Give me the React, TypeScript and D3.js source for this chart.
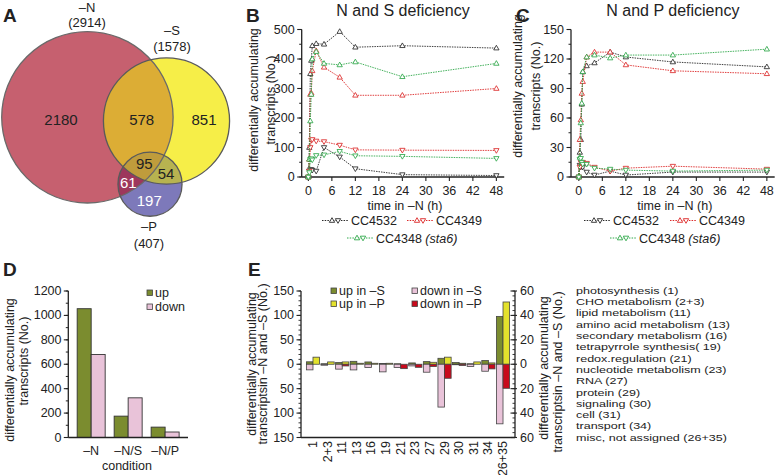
import React from "react";
import * as d3 from "d3";

const FONT = "'Liberation Sans', Arial, Helvetica, sans-serif";

// ---------- Panel A (Venn) ----------
const vennSets = ["–N", "–S", "–P"];
const vennTotals = [2914, 1578, 407];
const vennOnlyN = 2180;
const vennNS = 578;
const vennOnlyS = 851;
const vennNSP = 95;
const vennSP = 54;
const vennNP = 61;
const vennOnlyP = 197;

// ---------- Panels B / C ----------
const timePoints = [0, 0.25, 0.5, 0.75, 1, 2, 4, 8, 12, 24, 48];
const strainNames = ["CC4532", "CC4349", "CC4348"];
const nsUpCC4532 = [0, 100, 350, 395, 445, 452, 450, 493, 440, 445, 437];
const nsDownCC4532 = [0, 20, 25, 25, 23, 20, 100, 68, 28, 8, 5];
const nsUpCC4349 = [0, 60, 280, 285, 360, 428, 372, 338, 277, 277, 300];
const nsDownCC4349 = [0, 20, 100, 125, 127, 122, 120, 108, 92, 91, 90];
const nsUpCC4348 = [0, 60, 190, 280, 400, 425, 385, 380, 390, 340, 385];
const nsDownCC4348 = [0, 15, 60, 62, 58, 73, 75, 87, 72, 70, 63];

const npUpCC4532 = [0, 25, 38, 74, 107, 113, 116, 127, 122, 117, 112];
const npDownCC4532 = [0, 12, 10, 11, 10, 5, 2, 6, 2, 5, 5];
const npUpCC4349 = [0, 38, 58, 85, 97, 122, 127, 127, 114, 108, 105];
const npDownCC4349 = [0, 10, 15, 14, 15, 14, 10, 6, 9, 11, 8];
const npUpCC4348 = [0, 20, 55, 75, 107, 122, 124, 121, 124, 124, 130];
const npDownCC4348 = [0, 18, 19, 15, 13, 13, 9, 8, 7, 6, 7];

const timeTicks = [0, 6, 12, 18, 24, 30, 36, 42, 48];
const nsYTicks = [0, 100, 200, 300, 400, 500];
const npYTicks = [0, 30, 60, 90, 120, 150];

// ---------- Panel D ----------
const conditionsD = ["–N", "–N/S", "–N/P"];
const upD = [1055, 175, 85];
const downD = [680, 325, 45];
const yTicksD = [0, 200, 400, 600, 800, 1000, 1200];

// ---------- Panel E ----------
const categoriesE = ["1", "2+3", "11", "13", "16", "19", "21", "23", "27", "29", "30", "31", "34", "26+35"];
const upInS = [5, 1, 3.4, 6, 4.7, 1.4, 1, 2.7, 5.4, 12.2, 3.4, 1, 7.5, 98];
const downInS = [11.5, 2, 10, 11.6, 6.8, 15.6, 6.8, 3.4, 16.3, 87.7, 1, 4.8, 14.3, 122];
const upInP = [5.8, 1.9, 1.9, 0.8, 0.8, 0.8, 0, 0, 1.6, 5.8, 0.8, 1.9, 1.1, 51];
const downInP = [0, 0, 1.4, 0, 0, 0, 3.6, 2.5, 1.9, 11.5, 1, 0, 3.8, 19.7];
const leftTicksE = [-150, -100, -50, 0, 50, 100, 150];
const rightTicksE = [-60, -40, -20, 0, 20, 40, 60];
const functionalCategories = [
  "photosynthesis (1)",
  "CHO metabolism (2+3)",
  "lipid metabolism (11)",
  "amino acid metabolism (13)",
  "secondary metabolism (16)",
  "tetrapyrrole synthesis( 19)",
  "redox.regulation (21)",
  "nucleotide metabolism (23)",
  "RNA (27)",
  "protein (29)",
  "signaling (30)",
  "cell (31)",
  "transport (34)",
  "misc, not assigned (26+35)",
];

const C_BLACK = "#2a2a2a";
const C_RED = "#dc2a2a";
const C_GREEN = "#2fa84a";
const C_UP = "#7b8c2f";
const C_DOWN = "#e9c3d9";
const C_UPP = "#e3e12c";
const C_DOWNP = "#c8091c";

function triPath(cx: number, cy: number, up: boolean, s = 3) {
  if (up) return `M${cx},${cy - s}L${cx + s * 0.95},${cy + s * 0.65}L${cx - s * 0.95},${cy + s * 0.65}Z`;
  return `M${cx},${cy + s}L${cx + s * 0.95},${cy - s * 0.65}L${cx - s * 0.95},${cy - s * 0.65}Z`;
}

function Txt(props: any) {
  const { children, ...rest } = props;
  return (
    <text fontFamily={FONT} fontSize={12.5} fill="#222" {...rest}>
      {children}
    </text>
  );
}

function Venn() {
  const r = d3.scaleSqrt().domain([0, vennTotals[0]]).range([0, 85.7]);
  const cN = { x: 87.4, y: 117.3, r: r(vennTotals[0]) };
  const cS = { x: 166.5, y: 121, r: r(vennTotals[1]) };
  const cP = { x: 150, y: 184.2, r: r(vennTotals[2]) };
  const circ = (c: any, fill: string, extra: any = {}) => (
    <circle cx={c.x} cy={c.y} r={c.r} fill={fill} {...extra} />
  );
  return (
    <g>
      <defs>
        <clipPath id="clipN">{circ(cN, "#000")}</clipPath>
        <clipPath id="clipS">{circ(cS, "#000")}</clipPath>
        <clipPath id="clipP">{circ(cP, "#000")}</clipPath>
      </defs>
      {circ(cN, "#c6606f")}
      {circ(cS, "#f6ee48")}
      {circ(cP, "#7d79ba")}
      <g clipPath="url(#clipN)">{circ(cS, "#dcad35")}</g>
      <g clipPath="url(#clipN)">{circ(cP, "#9d375c")}</g>
      <g clipPath="url(#clipS)">{circ(cP, "#b7b350")}</g>
      <g clipPath="url(#clipN)">
        <g clipPath="url(#clipS)">{circ(cP, "#bf9c3c")}</g>
      </g>
      {circ(cN, "none", { stroke: "#6a6a6a", strokeWidth: 1.3 })}
      {circ(cS, "none", { stroke: "#5a5a5a", strokeWidth: 1.3 })}
      {circ(cP, "none", { stroke: "#5a5a5a", strokeWidth: 1.3 })}
      <Txt x={87} y={12} textAnchor="middle" fontSize={13}>{vennSets[0]}</Txt>
      <Txt x={87} y={27} textAnchor="middle" fontSize={13}>({vennTotals[0]})</Txt>
      <Txt x={172} y={35} textAnchor="middle" fontSize={13}>{vennSets[1]}</Txt>
      <Txt x={172} y={51} textAnchor="middle" fontSize={13}>({vennTotals[1]})</Txt>
      <Txt x={149} y={231} textAnchor="middle" fontSize={13}>{vennSets[2]}</Txt>
      <Txt x={149} y={248} textAnchor="middle" fontSize={13}>({vennTotals[2]})</Txt>
      <Txt x={61} y={125} textAnchor="middle" fontSize={15}>{vennOnlyN}</Txt>
      <Txt x={141.7} y={125} textAnchor="middle" fontSize={15}>{vennNS}</Txt>
      <Txt x={204} y={125} textAnchor="middle" fontSize={15}>{vennOnlyS}</Txt>
      <Txt x={144.3} y={169} textAnchor="middle" fontSize={15}>{vennNSP}</Txt>
      <Txt x={166} y={178.5} textAnchor="middle" fontSize={15}>{vennSP}</Txt>
      <Txt x={128.3} y={187.5} textAnchor="middle" fontSize={15} fill="#fff">{vennNP}</Txt>
      <Txt x={149.3} y={205.5} textAnchor="middle" fontSize={15} fill="#fff">{vennOnlyP}</Txt>
    </g>
  );
}

function LinePanel(props: any) {
  const { x0, xMinDom, yMax, yTicks, yMinor, series, title, lab1X, lab2X, labY, leg } = props;
  const x = d3.scaleLinear().domain([xMinDom, 50]).range([x0, x0 + (50 - xMinDom) * 3.917]);
  const y = d3.scaleLinear().domain([0, yMax]).range([177, 29.5]);
  const [xa, xb] = x.range();
  const line = d3.line<number>().x((_, i) => x(timePoints[i])).y((v) => y(v));
  const minor = d3.range(0, yMax + 0.001, yMinor);
  const legSym = (sx: number, sy: number, col: string) => (
    <g>
      <line x1={sx} x2={sx + 26} y1={sy} y2={sy} stroke={col} strokeWidth={1} strokeDasharray="1.5,1.2" />
      {[10, 16].map((dx, k) => (
        <path key={k} d={triPath(sx + dx, sy, k === 0, 2.8)} fill="#fff" stroke={col} strokeWidth={0.9} />
      ))}
    </g>
  );
  return (
    <g>
      <Txt x={(xa + xb) / 2} y={16} textAnchor="middle" fontSize={16}>{title}</Txt>
      <g transform={`translate(${lab1X},${labY}) rotate(-90)`}>
        <Txt textAnchor="middle" dominantBaseline="central">differentially accumulating</Txt>
      </g>
      <g transform={`translate(${lab2X},${labY}) rotate(-90)`}>
        <Txt textAnchor="middle" dominantBaseline="central">transcripts (No.)</Txt>
      </g>
      {/* axes */}
      <line x1={xa} x2={xa} y1={y(0)} y2={y(yMax)} stroke="#222" strokeWidth={1.3} />
      <line x1={xa} x2={xb} y1={y(0)} y2={y(0)} stroke="#222" strokeWidth={1.3} />
      {minor.map((v) => (
        <line key={"m" + v} x1={xa - 2.5} x2={xa} y1={y(v)} y2={y(v)} stroke="#222" strokeWidth={1} />
      ))}
      {yTicks.map((v: number) => (
        <g key={v}>
          <line x1={xa - 4.5} x2={xa} y1={y(v)} y2={y(v)} stroke="#222" strokeWidth={1.1} />
          <Txt x={xa - 7} y={y(v)} textAnchor="end" dominantBaseline="central">{v}</Txt>
        </g>
      ))}
      {timeTicks.map((t) => (
        <g key={t}>
          <line x1={x(t)} x2={x(t)} y1={y(0)} y2={y(0) + 4} stroke="#222" strokeWidth={1.1} />
          <Txt x={x(t)} y={194.5} textAnchor="middle">{t}</Txt>
        </g>
      ))}
      <Txt x={(xa + xb) / 2 + 2} y={210} textAnchor="middle">time in –N (h)</Txt>
      {/* series */}
      {series.map((s: any, si: number) => (
        <g key={si}>
          {[s.up, s.down].map((vals: number[], k: number) => (
            <g key={k}>
              <path d={line(vals) || ""} fill="none" stroke={s.color} strokeWidth={0.9} strokeDasharray="1.5,1" />
              {vals.map((v, i) => (
                <path key={i} d={triPath(x(timePoints[i]), y(v), k === 0, 2.8)} fill="#fff" stroke={s.color} strokeWidth={0.85} />
              ))}
            </g>
          ))}
        </g>
      ))}
      {/* legend */}
      {legSym(leg.r1a, 220.5, series[0].color)}
      <Txt x={leg.r1a + 29} y={225}>{strainNames[0]}</Txt>
      {legSym(leg.r1b, 220.5, series[1].color)}
      <Txt x={leg.r1b + 29} y={225}>{strainNames[1]}</Txt>
      {legSym(leg.r2, 238, series[2].color)}
      <Txt x={leg.r2 + 29} y={242.5}>
        {strainNames[2]} <tspan fontStyle="italic">(sta6)</tspan>
      </Txt>
    </g>
  );
}

function PanelD() {
  const xb = d3.scaleBand().domain(conditionsD).range([68.3, 188]).paddingInner(0.243).paddingOuter(0.24);
  const y = d3.scaleLinear().domain([0, 1200]).range([437.5, 291]);
  const bw = xb.bandwidth() / 2;
  const minor = d3.range(0, 1201, 100);
  return (
    <g>
      <g transform="translate(10,370) rotate(-90)">
        <Txt textAnchor="middle" dominantBaseline="central">differentially accumulating</Txt>
      </g>
      <g transform="translate(23.5,361) rotate(-90)">
        <Txt textAnchor="middle" dominantBaseline="central">transcripts (No.)</Txt>
      </g>
      {conditionsD.map((c, i) => (
        <g key={c}>
          <rect x={xb(c)!} y={y(upD[i])} width={bw} height={y(0) - y(upD[i])} fill={C_UP} stroke="#333" strokeWidth={0.9} />
          <rect x={xb(c)! + bw} y={y(downD[i])} width={bw} height={y(0) - y(downD[i])} fill={C_DOWN} stroke="#333" strokeWidth={0.9} />
          <Txt x={xb(c)! + bw} y={454.5} textAnchor="middle">{c}</Txt>
        </g>
      ))}
      <line x1={68.3} x2={68.3} y1={y(0)} y2={y(1200)} stroke="#222" strokeWidth={1.3} />
      <line x1={68.3} x2={188} y1={y(0)} y2={y(0)} stroke="#222" strokeWidth={1.3} />
      {minor.map((v) => (
        <line key={"m" + v} x1={65.8} x2={68.3} y1={y(v)} y2={y(v)} stroke="#222" strokeWidth={1} />
      ))}
      {yTicksD.map((v) => (
        <g key={v}>
          <line x1={63.8} x2={68.3} y1={y(v)} y2={y(v)} stroke="#222" strokeWidth={1.1} />
          <Txt x={61.5} y={y(v)} textAnchor="end" dominantBaseline="central">{v}</Txt>
        </g>
      ))}
      <Txt x={127} y={469.5} textAnchor="middle">condition</Txt>
      <rect x={147} y={290} width={5.5} height={5.5} fill={C_UP} stroke="#444" strokeWidth={0.8} />
      <Txt x={155} y={297}>up</Txt>
      <rect x={147} y={304} width={5.5} height={5.5} fill={C_DOWN} stroke="#444" strokeWidth={0.8} />
      <Txt x={155} y={311}>down</Txt>
    </g>
  );
}

function PanelE() {
  const x = d3.scalePoint().domain(categoriesE).range([301, 515]).padding(0.82);
  const yL = d3.scaleLinear().domain([-150, 150]).range([437.5, 291]);
  const yR = d3.scaleLinear().domain([-60, 60]).range([437.5, 291]);
  const bw = 6.6;
  const xl = 301;
  const xr = 515;
  const bar = (cx: number, v: number, sc: any, fill: string, key: string) =>
    v > 0 ? (
      <rect key={key} x={cx} y={Math.min(sc(0), sc(v))} width={bw} height={Math.abs(sc(v) - sc(0))} fill={fill} stroke="#444" strokeWidth={0.8} />
    ) : null;
  return (
    <g>
      {categoriesE.map((c, i) => {
        const cx = x(c)!;
        return (
          <g key={c}>
            {bar(cx - bw, upInS[i], yL, C_UP, "a")}
            {bar(cx - bw, downInS[i], (v: number) => yL(-v), C_DOWN, "b")}
            {bar(cx, upInP[i], yR, C_UPP, "c")}
            {bar(cx, downInP[i], (v: number) => yR(-v), C_DOWNP, "d")}
            <g transform={`translate(${cx},441) rotate(-90)`}>
              <Txt textAnchor="end" dominantBaseline="central">{c}</Txt>
            </g>
          </g>
        );
      })}
      <line x1={xl} x2={xl} y1={yL(-150)} y2={yL(150)} stroke="#222" strokeWidth={1.3} />
      <line x1={xr} x2={xr} y1={yL(-150)} y2={yL(150)} stroke="#222" strokeWidth={1.3} />
      <line x1={xl} x2={xr} y1={yL(-150)} y2={yL(-150)} stroke="#222" strokeWidth={1.3} />
      {d3.range(-150, 151, 10).map((v) => (
        <line key={"lm" + v} x1={xl - 2.5} x2={xl} y1={yL(v)} y2={yL(v)} stroke="#222" strokeWidth={0.9} />
      ))}
      {leftTicksE.map((v) => (
        <g key={"l" + v}>
          <line x1={xl - 4.5} x2={xl} y1={yL(v)} y2={yL(v)} stroke="#222" strokeWidth={1.1} />
          <Txt x={xl - 7} y={yL(v)} textAnchor="end" dominantBaseline="central">{Math.abs(v)}</Txt>
        </g>
      ))}
      {d3.range(-60, 61, 4).map((v) => (
        <line key={"rm" + v} x1={xr - 2.5} x2={xr} y1={yR(v)} y2={yR(v)} stroke="#222" strokeWidth={0.9} />
      ))}
      {rightTicksE.map((v) => (
        <g key={"r" + v}>
          <line x1={xr - 4.5} x2={xr + 2} y1={yR(v)} y2={yR(v)} stroke="#222" strokeWidth={1.1} />
          <Txt x={xr + 5} y={yR(v)} textAnchor="start" dominantBaseline="central">{Math.abs(v)}</Txt>
        </g>
      ))}
      <g transform="translate(251.5,364) rotate(-90)">
        <Txt textAnchor="middle" dominantBaseline="central">differentially accumulating</Txt>
      </g>
      <g transform="translate(263,364) rotate(-90)">
        <Txt textAnchor="middle" dominantBaseline="central">transcriptsin –N and –S (No.)</Txt>
      </g>
      <g transform="translate(544,368) rotate(-90)">
        <Txt textAnchor="middle" dominantBaseline="central">differentially accumulating</Txt>
      </g>
      <g transform="translate(558,372) rotate(-90)">
        <Txt textAnchor="middle" dominantBaseline="central">transcriptsin –N and –S (No.)</Txt>
      </g>
      {/* legend */}
      <rect x={331} y={288} width={5.5} height={5.5} fill={C_UP} stroke="#444" strokeWidth={0.8} />
      <Txt x={339} y={295}>up in –S</Txt>
      <rect x={331} y={301} width={5.5} height={5.5} fill={C_UPP} stroke="#444" strokeWidth={0.8} />
      <Txt x={339} y={308}>up in –P</Txt>
      <rect x={412} y={288} width={5.5} height={5.5} fill={C_DOWN} stroke="#444" strokeWidth={0.8} />
      <Txt x={420} y={295}>down in –S</Txt>
      <rect x={412} y={301} width={5.5} height={5.5} fill={C_DOWNP} stroke="#444" strokeWidth={0.8} />
      <Txt x={420} y={308}>down in –P</Txt>
      {functionalCategories.map((f, i) => (
        <g key={f} transform={`translate(576,${290.4 + i * 11.3}) scale(1.28,1)`}>
          <Txt x={0} y={0} dominantBaseline="central" fontSize={9.8}>{f}</Txt>
        </g>
      ))}
    </g>
  );
}

export default function App() {
  const seriesB = [
    { color: C_BLACK, up: nsUpCC4532, down: nsDownCC4532 },
    { color: C_RED, up: nsUpCC4349, down: nsDownCC4349 },
    { color: C_GREEN, up: nsUpCC4348, down: nsDownCC4348 },
  ];
  const seriesC = [
    { color: C_BLACK, up: npUpCC4532, down: npDownCC4532 },
    { color: C_RED, up: npUpCC4349, down: npDownCC4349 },
    { color: C_GREEN, up: npUpCC4348, down: npDownCC4348 },
  ];
  return (
    <svg width={777} height={475} style={{ position: "absolute", left: 0, top: 0, background: "#fff" }}>
      <Venn />
      <LinePanel x0={301.7} xMinDom={-1.7} yMax={500} yTicks={nsYTicks} yMinor={50} series={seriesB}
        title="N and S deficiency" lab1X={254} lab2X={271} labY={100} leg={{ r1a: 322, r1b: 407, r2: 347 }} />
      <LinePanel x0={571} xMinDom={-2} yMax={150} yTicks={npYTicks} yMinor={15} series={seriesC}
        title="N and P deficiency" lab1X={518} lab2X={535.5} labY={86} leg={{ r1a: 584, r1b: 670, r2: 610 }} />
      <PanelD />
      <PanelE />
      <Txt x={3} y={22} fontSize={19} fontWeight="bold">A</Txt>
      <Txt x={246} y={22} fontSize={19} fontWeight="bold">B</Txt>
      <Txt x={516} y={22} fontSize={19} fontWeight="bold">C</Txt>
      <Txt x={3} y={276} fontSize={19} fontWeight="bold">D</Txt>
      <Txt x={248} y={276} fontSize={19} fontWeight="bold">E</Txt>
    </svg>
  );
}
